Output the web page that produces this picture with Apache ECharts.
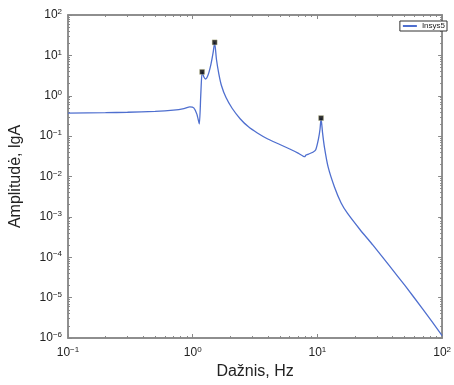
<!DOCTYPE html>
<html>
<head>
<meta charset="utf-8">
<script src="https://cdn.jsdelivr.net/npm/echarts@6/dist/echarts.min.js"></script>
<style>
  html, body { margin: 0; padding: 0; background: #fff; }
  #chart { width: 454px; height: 385px; }
</style>
</head>
<body>
<div id="chart"></div>
<script>
// dažnis, Hz
const freq = [0.1, 0.2, 0.3, 0.5, 0.7, 0.85, 0.95, 1.02, 1.08, 1.13, 1.16, 1.19, 1.23, 1.27, 1.33, 1.4, 1.46, 1.5,
    1.55, 1.62, 1.7, 1.85, 2.07, 2.4, 2.8, 3.3, 4.0, 5.0, 6.0, 7.0, 7.9, 8.1, 8.5, 9.2, 9.7, 10.2, 10.5, 10.7,
    11.0, 11.4, 12.2, 13.7, 15.5, 17.4, 22, 27.9, 38, 50.3, 70, 100]
// amplitudė
const amp = [0.37, 0.38, 0.39, 0.41, 0.44, 0.48, 0.53, 0.5, 0.35, 0.2, 1.0, 3.9, 2.9, 2.6, 3.3, 6, 12, 21,
    8, 3.5, 1.8, 0.9, 0.49, 0.27, 0.17, 0.12, 0.085, 0.062, 0.048, 0.038, 0.031, 0.034, 0.036, 0.04, 0.046, 0.085, 0.15, 0.28,
    0.12, 0.052, 0.017, 0.0055, 0.0022, 0.00123, 4.8e-4, 2.0e-4, 6e-5, 2.0e-5, 5.2e-6, 1.15e-6]
// pažymėti pikai
const peakFreq = [1.19, 1.5, 10.7]
const peakAmp = [3.9, 21, 0.28]

const seriesName = "Insys5"

const chart = echarts.init(document.getElementById("chart"))

function powLabel(v) {
    const e = Math.round(Math.log10(v))
    const s = e < 0 ? "\u2212" + Math.abs(e) : String(e)
    return "{b|10}{s|" + s + "}"
}
const richLbl = {
    b: { fontSize: 12, color: "#222", fontFamily: "Liberation Sans" },
    s: { fontSize: 8, color: "#222", fontFamily: "Liberation Sans", verticalAlign: "top", padding: [0, 0, 6, 0] },
}

const axisLineStyle = { color: "#888", width: 1.5 }

const options = {
    animation: false,
    grid: {
        left: 62,
        right: 2,
        top: 15,
        bottom: 41,
        show: true,
        borderColor: "#888",
        borderWidth: 1.5,
    },
    legend: {
        right: 7,
        top: 21,
        data: [seriesName],
        itemWidth: 14,
        itemHeight: 2,
        itemGap: 2,
        padding: [1, 2, 1, 2],
        borderColor: "#333",
        borderWidth: 1,
        backgroundColor: "#fff",
        textStyle: { fontSize: 8, color: "#222", fontFamily: "Liberation Sans" },
    },
    xAxis: [
        {
            type: "log",
            logBase: 10,
            min: 0.1,
            max: 100,
            name: "Dažnis, Hz",
            nameLocation: "middle",
            nameGap: 26,
            nameTextStyle: { fontSize: 16, color: "#222", fontFamily: "Liberation Sans" },
            axisLine: { lineStyle: axisLineStyle },
            axisTick: { inside: true, length: 4, lineStyle: { color: "#888" } },
            minorTick: { show: true, splitNumber: 9, length: 2, lineStyle: { color: "#888" } },
            splitLine: { show: false },
            axisLabel: { formatter: powLabel, rich: richLbl, margin: 8 },
        },
        {
            type: "log",
            logBase: 10,
            min: 0.1,
            max: 100,
            position: "top",
            axisLine: { lineStyle: axisLineStyle },
            axisTick: { inside: true, length: 4, lineStyle: { color: "#888" } },
            minorTick: { show: true, splitNumber: 9, length: 2, lineStyle: { color: "#888" } },
            splitLine: { show: false },
            axisLabel: { show: false },
        },
    ],
    yAxis: [
        {
            type: "log",
            logBase: 10,
            min: 1e-6,
            max: 100,
            name: "Amplitudė, lgA",
            nameLocation: "middle",
            nameGap: 44,
            nameTextStyle: { fontSize: 16, color: "#222", fontFamily: "Liberation Sans" },
            axisLine: { show: true, lineStyle: axisLineStyle },
            axisTick: { show: true, inside: true, length: 4, lineStyle: { color: "#888" } },
            minorTick: { show: true, splitNumber: 9, length: 2, lineStyle: { color: "#888" } },
            splitLine: { show: false },
            axisLabel: { formatter: powLabel, rich: richLbl, margin: 6 },
        },
        {
            type: "log",
            logBase: 10,
            min: 1e-6,
            max: 100,
            position: "right",
            axisLine: { show: true, lineStyle: axisLineStyle },
            axisTick: { show: true, inside: true, length: 4, lineStyle: { color: "#888" } },
            minorTick: { show: true, splitNumber: 9, length: 2, lineStyle: { color: "#888" } },
            splitLine: { show: false },
            axisLabel: { show: false },
        },
    ],
    series: [
        {
            name: seriesName,
            type: "line",
            data: freq.map((f, i) => [f, amp[i]]),
            smooth: 0.2,
            symbol: "none",
            lineStyle: { color: "#4f6fcf", width: 1.3 },
            itemStyle: { color: "#4f6fcf" },
        },
        {
            name: "pikai",
            type: "scatter",
            data: peakFreq.map((f, i) => [f, peakAmp[i]]),
            symbol: "rect",
            symbolSize: 5,
            itemStyle: { color: "#000", borderColor: "#cc9", borderWidth: 0.5 },
            z: 5,
        },
    ],
}

chart.setOption(options, true)
</script>
</body>
</html>
